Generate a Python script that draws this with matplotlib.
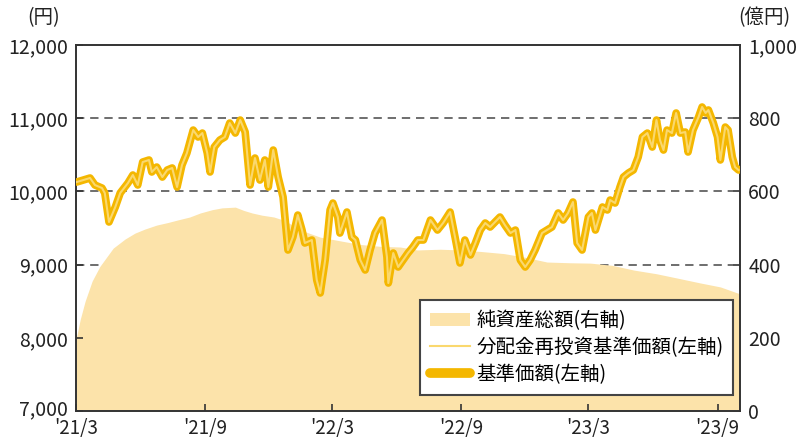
import matplotlib
matplotlib.use("Agg")
import matplotlib.pyplot as plt
import matplotlib.transforms as mtransforms
import pandas as pd
from matplotlib.patches import Patch
from matplotlib.lines import Line2D

plt.rcParams['font.family'] = ['Noto Sans CJK JP', 'DejaVu Sans']

start = pd.Timestamp('2021-03-01')

# 基準価額 (円): days since 2021-03-01 and values
price_days = [1, 20, 27, 37, 41, 47, 56, 63, 74, 81, 88, 95, 104, 108, 115, 123, 130, 137,
              144, 151, 158, 167, 174, 180, 187, 191, 197, 205, 212, 219, 227, 234, 241, 248,
              255, 262, 269, 274, 281, 288, 295, 302, 309, 316, 322, 326, 336, 343, 348, 355,
              362, 366, 373, 376, 386, 393, 398, 405, 412, 419, 426, 436, 443, 445, 452, 459,
              466, 473, 480, 487, 495, 505, 515, 523, 533, 540, 547, 554, 562, 569, 576, 583,
              590, 597, 604, 611, 619, 626, 633, 640, 647, 654, 664, 671, 678, 687, 694, 701,
              708, 714, 721, 730, 735, 740, 750, 757, 761, 768, 775, 780, 787, 794, 801, 807,
              814, 821, 827, 832, 837, 842, 849, 855, 861, 868, 872, 879, 887, 892, 897, 901,
              908, 914, 918, 925, 929, 935, 939, 944]
price = [10128, 10183, 10087, 10046, 9978, 9582, 9787, 9978, 10114, 10224, 10087, 10401,
         10429, 10265, 10333, 10196, 10292, 10320, 10060, 10360, 10524, 10838, 10743, 10797,
         10524, 10265, 10606, 10702, 10743, 10934, 10797, 10975, 10811, 10087, 10456, 10155,
         10429, 10060, 10565, 10196, 9923, 9199, 9377, 9677, 9472, 9295, 9336, 8789, 8612,
         9063, 9746, 9841, 9650, 9431, 9718, 9377, 9336, 9063, 8926, 9199, 9431, 9609, 9104,
         8748, 9158, 8967, 9063, 9158, 9240, 9336, 9336, 9609, 9472, 9568, 9718, 9377, 9022,
         9336, 9131, 9295, 9472, 9568, 9513, 9582, 9650, 9541, 9431, 9472, 9063, 8967, 9063,
         9199, 9431, 9472, 9513, 9705, 9609, 9705, 9855, 9295, 9199, 9650, 9705, 9472, 9787,
         9746, 9882, 9841, 10060, 10196, 10251, 10292, 10470, 10743, 10797, 10606, 10975,
         10702, 10565, 10838, 10797, 11071, 10797, 10811, 10538, 10838, 11016, 11153, 11071,
         11112, 10934, 10743, 10429, 10879, 10838, 10470, 10333, 10292]

# 純資産総額 (億円)
asset_days = [0, 6, 13, 23, 34, 53, 70, 84, 98, 115, 131, 145, 162, 177, 194, 208, 227, 239,
              251, 265, 282, 298, 319, 348, 376, 405, 433, 462, 486, 519, 547, 576, 610, 640,
              671, 704, 733, 764, 795, 827, 857, 889, 918, 946]
assets = [195, 250, 300, 355, 395, 445, 470, 486, 497, 508, 515, 522, 530, 541, 550, 555, 557,
          548, 541, 535, 530, 520, 495, 475, 465, 455, 450, 448, 440, 442, 440, 436, 430, 420,
          407, 405, 404, 398, 385, 375, 363, 350, 339, 320]

tick_dates = ['2021-03-01', '2021-09-01', '2022-03-01', '2022-09-01', '2023-03-01', '2023-09-01']
tick_labels = ["'21/3", "'21/9", "'22/3", "'22/9", "'23/3", "'23/9"]
left_ticks = [7000, 8000, 9000, 10000, 11000, 12000]
right_ticks = [0, 200, 400, 600, 800, 1000]

area_color = '#FCE3AA'
gold = '#F4B700'
pale = '#FAD86E'
dark = '#333333'

pdates = start + pd.to_timedelta(price_days, unit='D')
adates = start + pd.to_timedelta(asset_days, unit='D')

fig = plt.figure(figsize=(7.96, 4.4), dpi=100)
ax = fig.add_axes([76/796, 1 - 411/440, (740-76)/796, (411-45)/440])
ax2 = ax.twinx()
ax.set_zorder(ax2.get_zorder() + 1)
ax.patch.set_visible(False)

# assets area on right axis
ax2.fill_between(adates, assets, 0, color=area_color, lw=0, zorder=2)
ax2.set_ylim(0, 1000)
ax2.set_yticks(right_ticks)
ax2.set_yticklabels([f'{v:,}' for v in right_ticks])
ax2.set_axisbelow(True)
for v in [400, 600, 800]:
    ax2.axhline(v, color='#555555', lw=1.2, ls=(0, (5, 3.5)), zorder=1)

# price lines on left axis
ax.plot(pdates, price, color=gold, lw=5.5, solid_joinstyle='round', solid_capstyle='round', zorder=3)
ax.plot(pdates, price, color=pale, lw=1.5, solid_joinstyle='round', zorder=4)
ax.set_ylim(7000, 12000)
ax.set_yticks(left_ticks)
ax.set_yticklabels([f'{v:,}' for v in left_ticks])

ax.set_xlim(pd.Timestamp('2021-03-01'), pd.Timestamp('2023-10-03'))
ax.set_xticks(pd.to_datetime(tick_dates))
ax.set_xticklabels(tick_labels)

for a in (ax, ax2):
    for s in a.spines.values():
        s.set_color(dark)
        s.set_linewidth(1.2)
    a.tick_params(direction='in', length=5, width=1.2, color=dark, labelsize=14, pad=6,
                  labelcolor='#222222')
ax.tick_params(axis='x', pad=5, labelsize=13.5)

# nudge the bottom left-axis label up slightly so it clears the first date label
lbl = ax.get_yticklabels()[0]
lbl.set_transform(lbl.get_transform() + mtransforms.ScaledTranslation(0, 3/72, fig.dpi_scale_trans))

fig.text(44/796, 1 - 18/440, '(円)', ha='center', va='center', fontsize=14, color='#222222')
fig.text(764/796, 1 - 18/440, '(億円)', ha='center', va='center', fontsize=14, color='#222222')

handles = [Patch(facecolor=area_color, edgecolor='none'),
           Line2D([], [], color=pale, lw=1.5),
           Line2D([], [], color=gold, lw=7, solid_capstyle='round')]
labels = ['純資産総額(右軸)', '分配金再投資基準価額(左軸)', '基準価額(左軸)']
leg = ax.legend(handles, labels, loc='lower right', bbox_to_anchor=(0.9895, 0.045),
                fontsize=14, frameon=True, fancybox=False, framealpha=1,
                edgecolor='#444444', handlelength=2.1, handletextpad=0.3,
                labelspacing=0.3, borderpad=0.5, borderaxespad=0)
leg.get_frame().set_linewidth(1.5)

fig.savefig('out.png', dpi=100)
